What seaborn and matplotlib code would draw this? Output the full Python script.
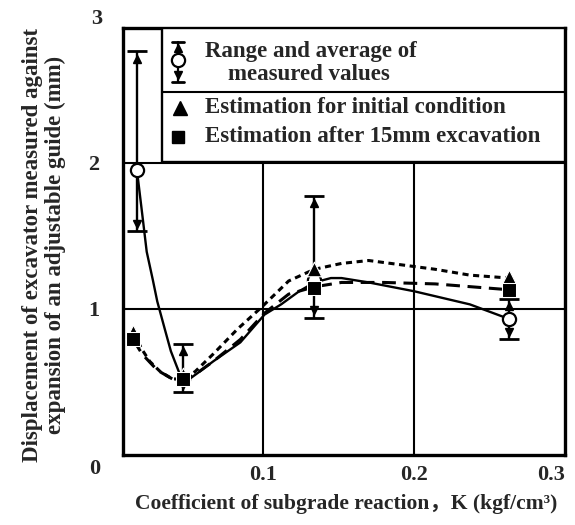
import matplotlib
matplotlib.use("Agg")
import matplotlib.pyplot as plt
import seaborn as sns
from matplotlib.patches import Rectangle

sns.set_style("white")
plt.rcParams['font.family'] = ['Liberation Serif', 'Noto Sans CJK JP']
plt.rcParams['font.weight'] = 'bold'

# measured values: range and average
meas_k = [0.0165, 0.047, 0.134, 0.263]
meas_avg = [1.95, 0.52, 1.20, 0.93]
meas_low = [1.53, 0.43, 0.94, 0.79]
meas_high = [2.76, 0.76, 1.77, 1.07]

# estimated points
est_k = [0.014, 0.047, 0.134, 0.263]
est_init = [0.84, 0.55, 1.27, 1.22]
est_exc = [0.79, 0.52, 1.14, 1.13]

# curves
solid_k = [0.0165, 0.020, 0.023, 0.027, 0.030, 0.035, 0.039, 0.045, 0.050, 0.058,
           0.067, 0.085, 0.101, 0.112, 0.124, 0.134, 0.145, 0.152, 0.170, 0.200, 0.237, 0.263]
solid_y = [1.95, 1.65, 1.39, 1.20, 1.05, 0.86, 0.71, 0.55, 0.51, 0.57,
           0.64, 0.77, 0.96, 1.03, 1.12, 1.18, 1.21, 1.21, 1.18, 1.12, 1.03, 0.93]
init_k = [0.014, 0.020, 0.025, 0.032, 0.040, 0.047, 0.055, 0.067, 0.083, 0.099,
          0.117, 0.134, 0.152, 0.170, 0.192, 0.214, 0.237, 0.263]
init_y = [0.84, 0.72, 0.64, 0.57, 0.52, 0.52, 0.57, 0.69, 0.86, 1.01,
          1.19, 1.27, 1.31, 1.33, 1.30, 1.27, 1.23, 1.21]
exc_k = [0.014, 0.020, 0.030, 0.040, 0.047, 0.055, 0.067, 0.085, 0.101, 0.117,
         0.134, 0.152, 0.180, 0.214, 0.263]
exc_y = [0.79, 0.69, 0.58, 0.52, 0.51, 0.55, 0.64, 0.79, 0.97, 1.10,
         1.15, 1.18, 1.18, 1.17, 1.13]

fig = plt.figure(figsize=(5.75, 5.25), dpi=100)
ax = fig.add_axes([123/575, 1-455/525, 442/575, 427/525])

# grid lines
ax.axhline(1, color='k', lw=1.5)
ax.axhline(2, color='k', lw=1.5)
ax.plot([0.1, 0.1], [0, 2], color='k', lw=1.5)
ax.plot([0.2, 0.2], [0, 2], color='k', lw=1.5)

sns.lineplot(x=solid_k, y=solid_y, ax=ax, color='k', lw=1.7, sort=False)
sns.lineplot(x=init_k, y=init_y, ax=ax, color='k', lw=2.2, sort=False, linestyle=(0, (2.0, 1.5)))
sns.lineplot(x=exc_k, y=exc_y, ax=ax, color='k', lw=2.2, sort=False, linestyle=(0, (4.5, 2.5)))

# measured ranges
ax.errorbar(meas_k, meas_avg,
            yerr=[[a - l for a, l in zip(meas_avg, meas_low)], [h - a for a, h in zip(meas_avg, meas_high)]],
            fmt='none', ecolor='k', elinewidth=1.7, capsize=7, capthick=2)
ax.plot(meas_k, [h - 0.05 for h in meas_high], '^', color='k', ms=6)
ax.plot(meas_k, [l + 0.05 for l in meas_low], 'v', color='k', ms=6)
sns.scatterplot(x=meas_k, y=meas_avg, ax=ax, marker='o', s=90, facecolor='white', edgecolor='k', linewidth=1.6, zorder=4)

sns.scatterplot(x=est_k, y=est_init, ax=ax, marker='^', s=110, color='k', zorder=5)
sns.scatterplot(x=est_k, y=est_exc, ax=ax, marker='s', s=90, color='k', zorder=5)

ax.set_xlim(0.0073, 0.3)
ax.set_ylim(0, 2.92)
ax.set_xticks([0.1, 0.2, 0.3])
ax.set_xticklabels(['0.1', '0.2', '0.3'])
ax.set_yticks([1, 2])
ax.set_yticklabels(['1', '2'])
ax.tick_params(length=0, labelsize=16, pad=7)
ax.tick_params(axis='y', pad=17)
ax.get_xticklabels()[-1].set_horizontalalignment('right')
ax.get_xticklabels()[-1].set_x(0.3)
for s in ax.spines.values():
    s.set_linewidth(2.4)
    s.set_color('k')
fig.text(97/575, 1-19/525, '3', fontsize=16, ha='center', va='center')
fig.text(95/575, 1-469/525, '0', fontsize=16, ha='center', va='center')

# legend box
T = ax.transAxes
ax.add_patch(Rectangle((0.088, 0.686), 0.912, 0.314, transform=T, facecolor='white', edgecolor='k', lw=1.7, zorder=6))
ax.plot([0.088, 1], [0.85, 0.85], transform=T, color='k', lw=1.5, zorder=7)
ax.plot([0.124, 0.124], [0.874, 0.967], transform=T, color='k', lw=1.6, zorder=7)
ax.plot([0.110, 0.138], [0.967, 0.967], transform=T, color='k', lw=2, zorder=7)
ax.plot([0.110, 0.138], [0.874, 0.874], transform=T, color='k', lw=2, zorder=7)
ax.plot([0.124], [0.952], '^', transform=T, color='k', ms=6, zorder=7)
ax.plot([0.124], [0.889], 'v', transform=T, color='k', ms=6, zorder=7)
ax.plot([0.124], [0.925], 'o', transform=T, mfc='white', mec='k', mew=1.6, ms=9.5, zorder=8)
ax.plot([0.129], [0.813], '^', transform=T, color='k', ms=10.5, zorder=7)
ax.plot([0.125], [0.745], 's', transform=T, color='k', ms=9, zorder=7)
ax.text(0.186, 0.944, 'Range and average of', transform=T, fontsize=16.5, ha='left', va='center', zorder=8)
ax.text(0.238, 0.890, 'measured values', transform=T, fontsize=16.5, ha='left', va='center', zorder=8)
ax.text(0.186, 0.813, 'Estimation for initial condition', transform=T, fontsize=16.5, ha='left', va='center', zorder=8)
ax.text(0.186, 0.745, 'Estimation after 15mm excavation', transform=T, fontsize=16.5, ha='left', va='center', zorder=8)

fig.text(44/575, 1-245/525, 'Displacement of excavator measured against\nexpansion of an adjustable guide (mm)',
         rotation=90, fontsize=16.5, ha='center', va='center', linespacing=1.1)
fig.text(346/575, 1-504/525, 'Coefficient of subgrade reaction\uff0cK (kgf/cm\u00b3)',
         fontsize=15.5, ha='center', va='center')

fig.savefig('out.png', dpi=100)
